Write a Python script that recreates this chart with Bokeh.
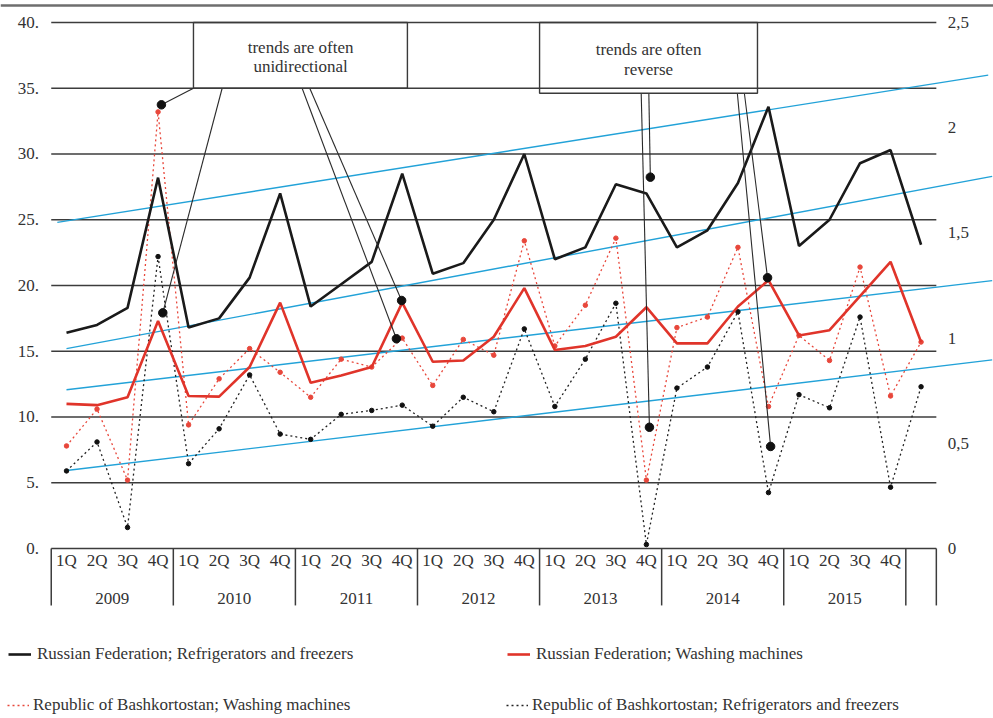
from bokeh.plotting import figure
from bokeh.models import Range1d, Legend, LegendItem
from bokeh.core.properties import value
from bokeh.embed import file_html
from bokeh.resources import INLINE

# ---------------- data ----------------
quarters = ["1Q", "2Q", "3Q", "4Q"]
years = ["2009", "2010", "2011", "2012", "2013", "2014", "2015"]
idx = list(range(29))  # 28 labelled quarters + one unlabelled period

rf_fridge = [16.4, 17.0, 18.3, 28.2, 16.8, 17.5, 20.6, 27.0, 18.4, 20.1, 21.8, 28.5,
             20.9, 21.7, 25.0, 30.0, 22.0, 22.9, 27.7, 27.0, 22.9, 24.2, 27.8, 33.6,
             23.0, 25.0, 29.3, 30.3, 23.1]
rf_wash = [11.0, 10.9, 11.5, 17.3, 11.6, 11.55, 13.8, 18.7, 12.6, 13.15, 13.8, 18.7,
           14.2, 14.3, 16.1, 19.8, 15.1, 15.4, 16.1, 18.35, 15.6, 15.6, 18.4, 20.4,
           16.2, 16.6, 19.2, 21.8, 15.7]
ba_wash = [7.8, 10.6, 5.2, 33.2, 9.4, 12.9, 15.2, 13.4, 11.5, 14.4, 13.8, 16.0,
           12.4, 15.9, 14.7, 23.4, 15.4, 18.5, 23.6, 5.2, 16.8, 17.6, 22.9, 10.8,
           16.2, 14.3, 21.4, 11.6, 15.7]
ba_fridge = [5.9, 8.1, 1.6, 22.2, 6.45, 9.1, 13.2, 8.7, 8.3, 10.2, 10.5, 10.9,
             9.3, 11.5, 10.4, 16.7, 10.8, 14.4, 18.65, 0.3, 12.2, 13.8, 18.0, 4.25,
             11.7, 10.7, 17.6, 4.66, 12.3]

left_ticks = [0, 5, 10, 15, 20, 25, 30, 35, 40]
left_labels = ["0.", "5.", "10.", "15.", "20.", "25.", "30.", "35.", "40."]
right_ticks = [0, 0.5, 1, 1.5, 2, 2.5]
right_labels = ["0", "0,5", "1", "1,5", "2", "2,5"]

# trend lines (blue)
trend_x0 = [-0.3, 0.0, 0.0, 0.0]
trend_x1 = [30.2, 30.33, 30.33, 30.33]
trend_y0 = [24.8, 15.2, 12.07, 5.93]
trend_y1 = [36.0, 28.3, 20.37, 14.34]

# callout boxes
box_left = [4.16, 15.5]
box_right = [11.17, 22.64]
box_bottom = [35.0, 34.62]
box_top = [40.0, 40.0]
box_text_x = [7.67, 19.07]
box_line1 = ["trends are often", "trends are often"]
box_line2 = ["unidirectional", "reverse"]
box_text_y1 = [38.1, 37.95]
box_text_y2 = [36.65, 36.4]

# connector lines
conn_x0 = [4.16, 5.10, 7.72, 7.97, 19.08, 18.83, 22.21, 21.98]
conn_y0 = [35.0, 35.0, 35.0, 35.0, 34.62, 34.62, 34.62, 34.62]
conn_x1 = [3.11, 3.155, 10.81, 10.98, 19.13, 19.10, 22.97, 23.07]
conn_y1 = [33.74, 17.92, 15.95, 18.86, 28.24, 9.22, 20.59, 7.76]

# ---------------- figure ----------------
Y_START, Y_END = -12.928, 41.673
X_START, X_END = -2.1625, 30.373
SERIF = "Liberation Serif"
TXT = "#333333"

p = figure(width=993, height=718, output_backend="svg", toolbar_location=None,
           x_range=Range1d(X_START, X_END), y_range=Range1d(Y_START, Y_END),
           x_axis_location=None, y_axis_location=None, min_border=0,
           background_fill_color="white", border_fill_color="white")
p.outline_line_color = None
p.xgrid.visible = False
p.ygrid.visible = False
p.extra_y_ranges = {"right": Range1d(Y_START / 16.0, Y_END / 16.0)}

# top border line
p.segment(x0=[X_START], x1=[X_END], y0=[41.29], y1=[41.29],
          line_color="#6e6e6e", line_width=2.5)

# horizontal grid lines
p.segment(x0=[-0.5] * len(left_ticks), x1=[28.5] * len(left_ticks),
          y0=left_ticks, y1=left_ticks, line_color="#3c3c3c", line_width=1.4)

# left scale labels
p.text(x=[-0.9] * len(left_ticks), y=left_ticks, text=left_labels,
       text_align="right", text_baseline="middle",
       text_font=value(SERIF), text_font_size="17px", text_color=TXT)

# right scale labels (secondary scale)
p.text(x=[28.87] * len(right_ticks), y=right_ticks, text=right_labels, y_range_name="right",
       text_align="left", text_baseline="middle",
       text_font=value(SERIF), text_font_size="17px", text_color=TXT)

# category table under the chart
bounds = [-0.5 + 4 * k for k in range(8)] + [28.5]
TABLE_BOTTOM = -4.33
p.segment(x0=bounds, x1=bounds, y0=[0] * len(bounds), y1=[TABLE_BOTTOM] * len(bounds),
          line_color="#3c3c3c", line_width=1.5)
q_x = list(range(28))
q_txt = [quarters[i % 4] for i in q_x]
p.text(x=q_x, y=[-0.95] * 28, text=q_txt, text_align="center", text_baseline="middle",
       text_font=value(SERIF), text_font_size="17px", text_color=TXT)
y_x = [1.5 + 4 * k for k in range(len(years))]
p.text(x=y_x, y=[-3.82] * len(years), text=years, text_align="center", text_baseline="middle",
       text_font=value(SERIF), text_font_size="17px", text_color=TXT)

# trend lines
p.segment(x0=trend_x0, x1=trend_x1, y0=trend_y0, y1=trend_y1,
          line_color="#22a2d8", line_width=1.4)

# Bashkortostan series (dotted)
r_ba_f = p.line(idx, ba_fridge, line_color="#222222", line_width=1.3, line_dash="2 3")
p.scatter(idx, ba_fridge, size=4.5, color="#111111")
r_ba_w = p.line(idx, ba_wash, line_color="#e8473b", line_width=1.3, line_dash="2 3")
p.scatter(idx, ba_wash, size=4.5, color="#e8473b")

# Russian Federation series (solid)
r_rf_w = p.line(idx, rf_wash, line_color="#e0342a", line_width=2.6)
r_rf_f = p.line(idx, rf_fridge, line_color="#1a1a1a", line_width=2.6)

# connectors and their end dots
p.segment(x0=conn_x0, y0=conn_y0, x1=conn_x1, y1=conn_y1, line_color="#2a2a2a", line_width=1.1)
p.scatter(conn_x1, conn_y1, size=8.5, color="#111111")

# callout boxes
p.quad(left=box_left, right=box_right, bottom=box_bottom, top=box_top,
       fill_color=None, line_color="#3a3a3a", line_width=1.4)
p.text(x=box_text_x, y=box_text_y1, text=box_line1, text_align="center", text_baseline="middle",
       text_font=value(SERIF), text_font_size="17px", text_color=TXT)
p.text(x=box_text_x, y=box_text_y2, text=box_line2, text_align="center", text_baseline="middle",
       text_font=value(SERIF), text_font_size="17px", text_color=TXT)

# legends (two rows)
def make_legend(items, loc, gw, standoff, lw):
    return Legend(items=items, orientation="horizontal", location=loc,
                  glyph_width=gw, glyph_height=20, label_height=20, label_width=lw,
                  label_standoff=standoff, spacing=0, padding=0, margin=0,
                  border_line_color=None, background_fill_alpha=0,
                  label_text_font=SERIF, label_text_font_size="17px", label_text_color=TXT)

leg1 = make_legend([LegendItem(label="Russian Federation; Refrigerators and freezers", renderers=[r_rf_f]),
                    LegendItem(label="Russian Federation; Washing machines", renderers=[r_rf_w])],
                   (8, 54), 23, 6, 470)
leg2 = make_legend([LegendItem(label="Republic of Bashkortostan; Washing machines", renderers=[r_ba_w]),
                    LegendItem(label="Republic of Bashkortostan; Refrigerators and freezers", renderers=[r_ba_f])],
                   (7, 3), 22, 4, 473)
p.add_layout(leg1, "center")
p.add_layout(leg2, "center")

open("out.html", "w").write(file_html(p, INLINE))
